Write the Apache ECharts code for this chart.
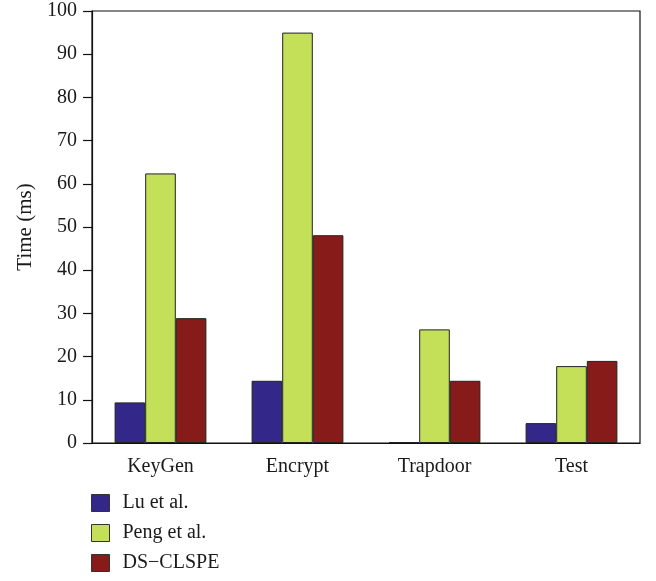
<!DOCTYPE html>
<html>
<head>
<meta charset="utf-8">
<script src="https://cdn.jsdelivr.net/npm/echarts@6/dist/echarts.min.js"></script>
<style>
  html, body { margin: 0; padding: 0; background: #fff; }
  #chart { width: 656px; height: 581px; }
</style>
</head>
<body>
<div id="chart"></div>
<script>
// Operation timings per scheme (ms)
const categories = ['KeyGen', 'Encrypt', 'Trapdoor', 'Test'];
const seriesNames = ['Lu et al.', 'Peng et al.', 'DS\u2212CLSPE'];
const luValues = [9.4, 14.4, 0.2, 4.6];
const pengValues = [62.4, 95.0, 26.3, 17.8];
const dsValues = [28.9, 48.1, 14.4, 19.0];
const yTicks = [0, 10, 20, 30, 40, 50, 60, 70, 80, 90, 100];

const colors = ['#33288a', '#c3e058', '#861b19'];
const font = '"Liberation Serif", "DejaVu Serif", serif';
const values = [luValues, pengValues, dsValues];

const chart = echarts.init(document.getElementById('chart'));
chart.setOption({
  animation: false,
  grid: {
    left: 92, right: 16, top: 11, bottom: 138,
    show: true, borderColor: '#111', borderWidth: 1.2, backgroundColor: 'transparent'
  },
  legend: {
    orient: 'vertical',
    left: 86, top: 488,
    height: 100,
    itemWidth: 18, itemHeight: 17, itemGap: 10,
    icon: 'rect',
    textStyle: { fontFamily: font, fontSize: 20, lineHeight: 20, color: '#1a1a1a', padding: [0, 0, 0, 8] },
    data: seriesNames.map((n, i) => ({ name: n, itemStyle: { color: colors[i], borderColor: '#333', borderWidth: 1 } }))
  },
  xAxis: {
    type: 'category',
    data: categories,
    axisLine: { lineStyle: { color: '#111', width: 1.2 } },
    axisTick: { show: false },
    axisLabel: { fontFamily: font, fontSize: 20, color: '#1a1a1a', margin: 14 }
  },
  yAxis: {
    type: 'value',
    min: yTicks[0], max: yTicks[yTicks.length - 1], interval: 10,
    name: 'Time (ms)',
    nameLocation: 'middle',
    nameGap: 56,
    nameTextStyle: { fontFamily: font, fontSize: 21, color: '#1a1a1a' },
    axisLine: { show: true, lineStyle: { color: '#111', width: 1.2 } },
    axisTick: { show: true, inside: false, length: 9, lineStyle: { color: '#111', width: 1.2 } },
    axisLabel: { fontFamily: font, fontSize: 20, color: '#1a1a1a', margin: 15 },
    splitLine: { show: false }
  },
  series: seriesNames.map((n, i) => ({
    name: n,
    type: 'bar',
    data: values[i],
    barGap: '0%',
    barCategoryGap: '33%',
    itemStyle: { color: colors[i], borderColor: '#222', borderWidth: 1 }
  }))
});
</script>
</body>
</html>
